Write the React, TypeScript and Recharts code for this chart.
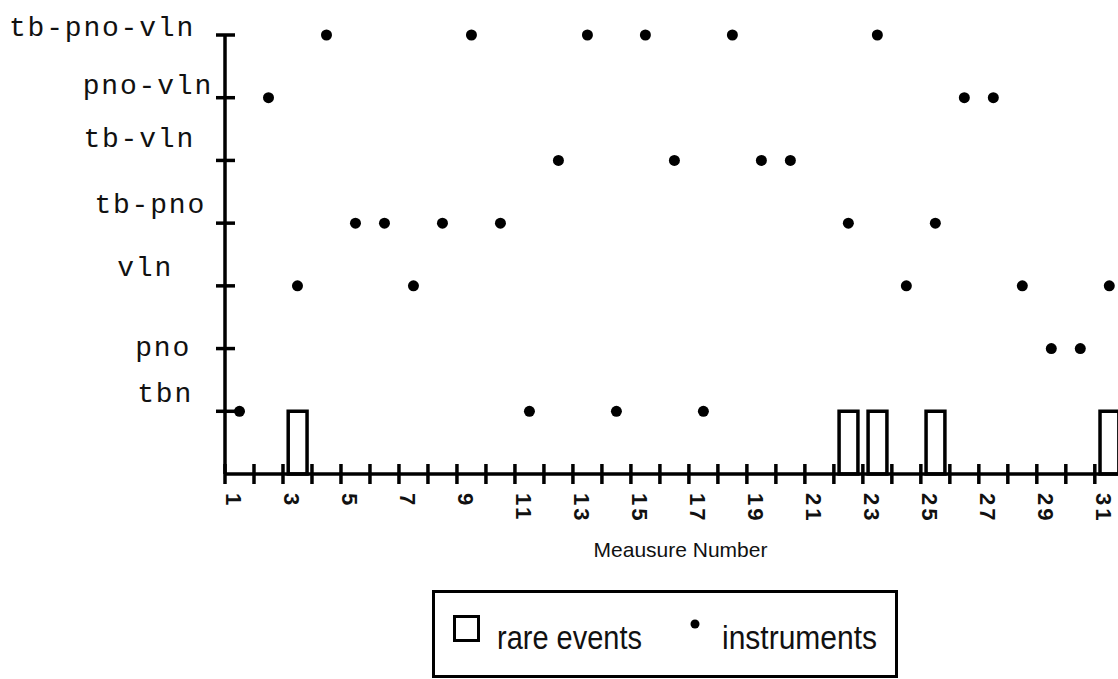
import React from 'react';
import { ScatterChart, Scatter, XAxis, YAxis, ReferenceArea, Legend, Label } from 'recharts';

// ---- data ----
const Y_CATEGORIES = ['tbn', 'pno', 'vln', 'tb-pno', 'tb-vln', 'pno-vln', 'tb-pno-vln'];
const Y_TICKS = [1, 2, 3, 4, 5, 6, 7];

const MEASURES = [
  1, 2, 3, 4, 5, 6, 7, 8, 9, 10, 11, 12, 13, 14, 15, 16,
  17, 18, 19, 20, 21, 22, 23, 24, 25, 26, 27, 28, 29, 30, 31,
];
const INSTRUMENT_AT_MEASURE: (string | null)[] = [
  'tbn', 'pno-vln', 'vln', 'tb-pno-vln', 'tb-pno', 'tb-pno', 'vln', 'tb-pno',
  'tb-pno-vln', 'tb-pno', 'tbn', 'tb-vln', 'tb-pno-vln', 'tbn', 'tb-pno-vln', 'tb-vln',
  'tbn', 'tb-pno-vln', 'tb-vln', 'tb-vln', null, 'tb-pno', 'tb-pno-vln', 'vln',
  'tb-pno', 'pno-vln', 'pno-vln', 'vln', 'pno', 'pno', 'vln',
];
const RARE_EVENT_MEASURES = [3, 22, 23, 25, 31];

const X_TICKS = [
  1, 2, 3, 4, 5, 6, 7, 8, 9, 10, 11, 12, 13, 14, 15, 16,
  17, 18, 19, 20, 21, 22, 23, 24, 25, 26, 27, 28, 29, 30, 31,
];
const X_TICK_LABELS = [1, 3, 5, 7, 9, 11, 13, 15, 17, 19, 21, 23, 25, 27, 29, 31];

const LEGEND_ITEMS = ['rare events', 'instruments'];
const X_TITLE = 'Meausure Number';

// ---- style ----
const INK = '#000';
const AXIS_W = 3.5;
const Y_LABEL_NUDGE: Record<string, { dx: number; dy: number }> = {
  'tbn': { dx: -35, dy: -9 },
  'pno': { dx: -37, dy: 7 },
  'vln': { dx: -55, dy: -10 },
  'tb-pno': { dx: -22, dy: -10 },
  'tb-vln': { dx: -33, dy: -13 },
  'pno-vln': { dx: -15, dy: -4 },
  'tb-pno-vln': { dx: -33, dy: 1 },
};

const points = MEASURES.map((m, i) => {
  const cat = INSTRUMENT_AT_MEASURE[i];
  if (!cat) return null;
  return { x: m + 0.5, y: Y_CATEGORIES.indexOf(cat) + 1 };
}).filter(Boolean) as { x: number; y: number }[];

const XTick = (props: any) => {
  const { x, y, payload } = props;
  const v = payload.value;
  return (
    <g>
      <line x1={x} y1={y - 10} x2={x} y2={y + 10} stroke={INK} strokeWidth={AXIS_W} />
      {X_TICK_LABELS.includes(v) && (
        <text
          transform={`translate(${x + 1},${y + 19}) rotate(90)`}
          textAnchor="start"
          fontFamily="'Liberation Sans', Arial, sans-serif"
          fontWeight={700}
          fontSize={22}
          letterSpacing={3}
          fill="#111"
        >
          {v}
        </text>
      )}
    </g>
  );
};

const YTick = (props: any) => {
  const { x, y, payload } = props;
  const label = Y_CATEGORIES[payload.value - 1];
  const n = Y_LABEL_NUDGE[label] || { dx: -30, dy: -8 };
  return (
    <g>
      <line x1={x - 9} y1={y} x2={x + 10} y2={y} stroke={INK} strokeWidth={AXIS_W} />
      <text
        x={x + n.dx + 3}
        y={y + n.dy}
        textAnchor="end"
        fontFamily="'Liberation Mono', 'Courier New', monospace"
        fontSize={28}
        letterSpacing={1.8}
        fill="#111"
      >
        {label}
      </text>
    </g>
  );
};

const Dot = (props: any) => {
  const { cx, cy } = props;
  if (cx == null || cy == null) return null;
  return <circle cx={cx} cy={cy} r={5.5} fill={INK} />;
};

const renderLegend = () => (
  <svg width={466} height={88} style={{ display: 'block' }}>
    <rect x={1.5} y={1.5} width={463} height={85} fill="#fff" stroke={INK} strokeWidth={3} />
    <rect x={22.5} y={26.5} width={24} height={24} fill="none" stroke={INK} strokeWidth={3} />
    <text
      x={65}
      y={59}
      fontFamily="'Liberation Sans', Arial, sans-serif"
      fontSize={33}
      textLength={145}
      lengthAdjust="spacingAndGlyphs"
      fill="#111"
    >
      {LEGEND_ITEMS[0]}
    </text>
    <circle cx={263} cy={34} r={4.5} fill={INK} />
    <text
      x={290}
      y={59}
      fontFamily="'Liberation Sans', Arial, sans-serif"
      fontSize={33}
      textLength={155}
      lengthAdjust="spacingAndGlyphs"
      fill="#111"
    >
      {LEGEND_ITEMS[1]}
    </text>
  </svg>
);

const XTitle = (props: any) => {
  const vb = props.viewBox || {};
  return (
    <text
      x={vb.x + vb.width / 2 + 9}
      y={vb.y + 83}
      textAnchor="middle"
      fontFamily="'Liberation Sans', Arial, sans-serif"
      fontSize={21}
      fill="#111"
    >
      {X_TITLE}
    </text>
  );
};

export default function App() {
  return (
    <div style={{ position: 'absolute', left: 0, top: 0, width: 1118, height: 679, background: '#fff', overflow: 'hidden' }}>
      <ScatterChart width={1118} height={679} margin={{ top: 35, right: 0, bottom: 145, left: 0 }}>
        <XAxis
          type="number"
          dataKey="x"
          domain={[1, 31.8]}
          ticks={X_TICKS}
          interval={0}
          height={60}
          tickSize={0}
          tickMargin={0}
          tickLine={false}
          axisLine={{ stroke: INK, strokeWidth: AXIS_W }}
          tick={<XTick />}
        >
          <Label content={<XTitle />} />
        </XAxis>
        <YAxis
          type="number"
          dataKey="y"
          domain={[0, 7]}
          ticks={Y_TICKS}
          interval={0}
          width={225}
          tickSize={0}
          tickMargin={0}
          tickLine={false}
          axisLine={{ stroke: INK, strokeWidth: AXIS_W }}
          tick={<YTick />}
        />
        {RARE_EVENT_MEASURES.map((m) => (
          <ReferenceArea
            key={m}
            x1={m + 0.18}
            x2={m + 0.83}
            y1={0}
            y2={1}
            ifOverflow="visible"
            fill="#fff"
            fillOpacity={1}
            stroke={INK}
            strokeWidth={3.5}
          />
        ))}
        <Scatter
          name="instruments"
          data={points}
          fill={INK}
          shape={<Dot />}
          isAnimationActive={false}
        />
        <Legend
          layout="vertical"
          align="center"
          verticalAlign="middle"
          content={renderLegend}
          wrapperStyle={{ left: 432, top: 590, width: 466, height: 88 }}
        />
      </ScatterChart>
    </div>
  );
}
